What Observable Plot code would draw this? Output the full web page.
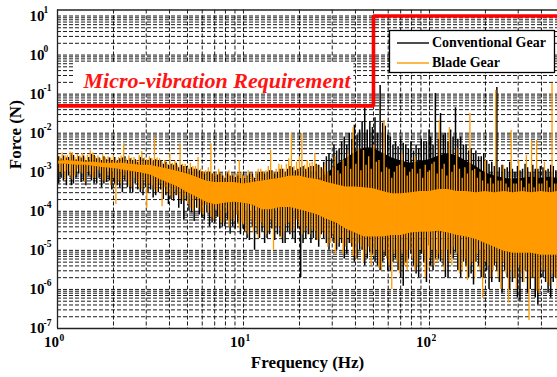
<!DOCTYPE html>
<html><head><meta charset="utf-8">
<script src="https://cdn.jsdelivr.net/npm/d3@7"></script>
<script src="https://cdn.jsdelivr.net/npm/@observablehq/plot@0.6"></script>
<style>
html,body{margin:0;padding:0;background:#fff;overflow:hidden;}
#chart{width:557px;height:377px;}
</style></head><body><div id="chart"></div>
<script>
// ---------- axes / ticks ----------
const xDomain = [1, 488];
const yDomain = [1e-7, 14.24];
const xMajor = [1, 10, 100];
const xExp = ["0", "1", "2"];
const yMajor = [10, 1, 0.1, 0.01, 1e-3, 1e-4, 1e-5, 1e-6, 1e-7];
const yExp = ["1", "0", "-1", "-2", "-3", "-4", "-5", "-6", "-7"];
const minorMant = [2, 3, 4, 5, 6, 7, 8, 9];
const xTitle = "Frequency (Hz)";
const yTitle = "Force (N)";
const seriesNames = ["Conventional Gear", "Blade Gear"];
const seriesColors = ["#000000", "#ff9a00"];

// ---------- requirement ----------
const reqF = [1, 50, 50, 488];
const reqV = [0.05, 0.05, 10, 10];
const reqLabel = {text: "Micro-vibration Requirement", f: 1.38, v: 0.22};

// ---------- spectrum core band (coarse bins) ----------
const bandF = [1.00,1.12,1.26,1.41,1.58,1.78,2.00,2.24,2.51,2.82,
  3.16,3.55,3.98,4.47,5.01,5.62,6.31,7.08,7.94,8.91,
  10.0,11.2,12.6,14.1,15.8,17.8,20.0,22.4,25.1,28.2,
  31.6,35.5,39.8,44.7,50.1,56.2,63.1,70.8,79.4,89.1,
  100,112,126,141,158,178,200,224,251,282,
  316,355,398,447,488];
const convTop = [1.9e-3,2.0e-3,1.9e-3,1.8e-3,1.8e-3,1.7e-3,1.7e-3,1.7e-3,1.6e-3,1.5e-3,
  1.5e-3,1.35e-3,1.2e-3,1.05e-3,9e-4,7.5e-4,6e-4,5.5e-4,5.5e-4,5.5e-4,
  5e-4,5.5e-4,6e-4,6.5e-4,7e-4,8e-4,8e-4,7e-4,6.5e-4,9e-4,
  1.5e-3,2.2e-3,3.2e-3,4.2e-3,4.2e-3,3e-3,2.3e-3,1.9e-3,1.7e-3,1.9e-3,
  2.1e-3,2.6e-3,3e-3,2.6e-3,1.9e-3,1.4e-3,9.5e-4,8e-4,7e-4,6.5e-4,
  7e-4,7.5e-4,7e-4,7.5e-4,7e-4];
const convBot = [1.6e-3,1.6e-3,1.5e-3,1.5e-3,1.4e-3,1.3e-3,1.25e-3,1.15e-3,1.05e-3,9.5e-4,
  8.5e-4,6.5e-4,5.2e-4,4.1e-4,3e-4,2.3e-4,1.7e-4,1.45e-4,1.6e-4,1.7e-4,
  1.6e-4,1.45e-4,1.1e-4,1.1e-4,1.25e-4,1.25e-4,1.1e-4,9.5e-5,8e-5,6.2e-5,
  5e-5,3.5e-5,2.8e-5,2.2e-5,2.2e-5,2.2e-5,2.4e-5,2.4e-5,2.8e-5,2.9e-5,
  2.9e-5,3.1e-5,2.8e-5,2.4e-5,2.2e-5,1.9e-5,1.5e-5,1.2e-5,9.5e-6,8.5e-6,
  8.5e-6,8.5e-6,7.5e-6,7.5e-6,7.5e-6];
const bladeTop = [1.9e-3,2.0e-3,1.9e-3,1.8e-3,1.8e-3,1.7e-3,1.7e-3,1.7e-3,1.6e-3,1.5e-3,
  1.5e-3,1.35e-3,1.2e-3,1.05e-3,9e-4,7.5e-4,6e-4,5.5e-4,5.5e-4,5.5e-4,
  5e-4,5.5e-4,6e-4,6.5e-4,7e-4,8e-4,8e-4,7e-4,6.5e-4,5.5e-4,
  4.8e-4,4.2e-4,4.2e-4,4e-4,3.8e-4,3.2e-4,2.8e-4,2.8e-4,3e-4,3.2e-4,
  3.2e-4,3.6e-4,3.6e-4,3.2e-4,3.2e-4,3e-4,3.2e-4,3e-4,3.2e-4,3e-4,
  3.2e-4,3e-4,3.2e-4,3e-4,3.2e-4];
const bladeBot = [1.6e-3,1.6e-3,1.5e-3,1.5e-3,1.4e-3,1.3e-3,1.25e-3,1.15e-3,1.05e-3,9.5e-4,
  8.5e-4,6.5e-4,5.2e-4,4.1e-4,3e-4,2.3e-4,1.7e-4,1.45e-4,1.6e-4,1.7e-4,
  1.6e-4,1.45e-4,1.1e-4,1.1e-4,1.25e-4,1.25e-4,1.1e-4,9.5e-5,8e-5,6.2e-5,
  5e-5,3.5e-5,2.8e-5,2.2e-5,2.2e-5,2.2e-5,2.4e-5,2.4e-5,2.8e-5,2.9e-5,
  2.9e-5,3.1e-5,2.8e-5,2.4e-5,2.2e-5,1.9e-5,1.5e-5,1.2e-5,9.5e-6,8.5e-6,
  8.5e-6,8.5e-6,7.5e-6,7.5e-6,7.5e-6];

// ---------- spectrum lines: per-frequency max / min ----------
const lineF = [1.00,1.03,1.06,1.10,1.13,1.17,1.20,1.24,1.28,1.32,
  1.36,1.40,1.45,1.50,1.55,1.60,1.65,1.70,1.75,1.81,
  1.87,1.93,2.00,2.06,2.13,2.20,2.27,2.34,2.42,2.50,
  2.58,2.66,2.75,2.84,2.93,3.02,3.12,3.22,3.32,3.43,
  3.54,3.65,3.77,3.89,4.02,4.15,4.28,4.42,4.56,4.71,
  4.86,5.02,5.18,5.35,5.52,5.70,5.88,6.07,6.27,6.47,
  6.68,6.90,7.12,7.35,7.59,7.83,8.09,8.35,8.62,8.90,
  9.19,9.49,9.80,
  10.0,10.3,10.6,11.0,11.3,11.7,12.0,12.4,12.8,13.2,
  13.6,14.0,14.5,15.0,15.5,16.0,16.5,17.0,17.5,18.1,
  18.7,19.3,20.0,20.6,21.3,22.0,22.7,23.4,24.2,25.0,
  25.8,26.6,27.5,28.4,29.3,30.2,31.2,32.2,33.2,34.3,
  35.4,36.5,37.7,38.9,40.2,41.5,42.8,44.2,45.6,47.1,
  48.6,50.2,51.8,53.5,55.2,57.0,58.8,60.7,62.7,64.7,
  66.8,69.0,71.2,73.5,75.9,78.3,80.9,83.5,86.2,89.0,
  91.9,94.9,98.0,
  100,103,106,110,113,117,120,124,128,132,
  136,140,145,150,155,160,165,170,175,181,
  187,193,200,206,213,220,227,234,242,250,
  258,266,275,284,293,302,312,322,332,343,
  354,365,377,389,402,415,428,442,456,471,
  486];
const convHi = [2.5e-3,2.2e-3,2.6e-3,2.3e-3,2.4e-3,2.8e-3,2.7e-3,2.1e-3,2.5e-3,2.3e-3,
  2.6e-3,2.0e-3,2.4e-3,2.9e-3,2.7e-3,2.2e-3,2.3e-3,2.0e-3,2.5e-3,2.1e-3,
  2.3e-3,2.0e-3,2.4e-3,1.9e-3,2.2e-3,2.3e-3,2.5e-3,2.0e-3,2.2e-3,2.0e-3,
  2.1e-3,1.8e-3,2.4e-3,2.2e-3,2.0e-3,1.9e-3,2.2e-3,1.9e-3,2.1e-3,2.0e-3,
  1.9e-3,1.6e-3,1.8e-3,1.5e-3,1.6e-3,1.5e-3,1.7e-3,1.3e-3,1.5e-3,1.4e-3,
  1.4e-3,1.2e-3,1.3e-3,1.2e-3,1.2e-3,1.1e-3,1.0e-3,9e-4,1.0e-3,1.0e-3,
  9e-4,8e-4,8.5e-4,9e-4,8e-4,7e-4,9e-4,8e-4,8e-4,7.5e-4,
  8e-4,7e-4,8.5e-4,7e-4,8e-4,9e-4,9e-4,7e-4,9e-4,1.0e-3,
  1.0e-3,9e-4,1.0e-3,1.1e-3,1.1e-3,9e-4,1.0e-3,1.2e-3,1.2e-3,1.0e-3,
  1.2e-3,1.4e-3,1.3e-3,1.1e-3,1.2e-3,1.3e-3,1.4e-3,1.2e-3,1.3e-3,1.4e-3,
  1.4e-3,1.6e-3,1.5e-3,1.3e-3,1.8e-3,2.5e-3,3.0e-3,2.2e-3,5.0e-3,3.5e-3,
  4.0e-3,6.0e-3,8.0e-3,5.0e-3,1.0e-2,7.0e-3,1.6e-2,9.0e-3,1.2e-2,2.0e-2,
  4.5e-2,1.2e-2,2.0e-2,1.4e-2,2.5e-2,1.0e-2,0.166,1.8e-2,1.5e-2,9.0e-3,
  8.0e-3,5.0e-3,6.0e-3,4.5e-3,7.0e-3,5.5e-3,5.0e-3,4.0e-3,6.0e-3,3.5e-3,
  5.0e-3,4.0e-3,7.0e-3,6.0e-3,6.0e-3,1.2e-2,8.0e-3,5.0e-3,0.104,7.0e-3,
  3.2e-2,9.0e-3,1.0e-2,6.0e-3,1.2e-2,8.0e-3,4.5e-2,7.0e-3,8.0e-3,5.0e-3,
  5.0e-3,3.5e-3,4.0e-3,3.0e-3,3.5e-3,2.5e-3,2.5e-3,3.0e-3,2.0e-3,1.6e-3,
  1.8e-3,1.4e-3,0.148,1.3e-3,1.5e-3,1.2e-3,1.3e-3,1.8e-3,1.2e-3,1.0e-3,
  1.4e-3,1.1e-3,1.2e-3,1.6e-3,1.3e-3,1.0e-3,1.5e-3,1.2e-3,1.2e-3,1.4e-3,
  1.3e-3,1.1e-3,1.2e-3,1.5e-3,1.4e-3,1.1e-3,1.2e-3];
const convLo = [5e-4,7e-4,6e-4,4.5e-4,8e-4,4.5e-4,5e-4,7e-4,9e-4,5.5e-4,
  6e-4,4.5e-4,8e-4,6e-4,5e-4,5e-4,7e-4,4e-4,5e-4,5.5e-4,
  6e-4,3.5e-4,5e-4,4.5e-4,4e-4,3e-4,6e-4,4e-4,3e-4,3e-4,
  5e-4,3.5e-4,3e-4,2.5e-4,4e-4,3e-4,3.5e-4,2.2e-4,2.5e-4,3e-4,
  3.5e-4,2e-4,2.5e-4,1.5e-4,2e-4,1.8e-4,2.5e-4,1.2e-4,1.5e-4,6e-5,
  1.8e-4,1e-4,9e-5,5.5e-5,1.2e-4,8e-5,7e-5,6e-5,9e-5,4e-5,
  5e-5,5e-5,7e-5,3.5e-5,4e-5,4e-5,6e-5,2.6e-5,4e-5,3.5e-5,
  5e-5,2.5e-5,3.5e-5,3e-5,2e-5,1.8e-5,4e-5,1e-5,2.5e-5,2e-5,
  3e-5,1.5e-5,2e-5,2.5e-5,3.5e-5,1.8e-5,2.5e-5,2.2e-5,1.5e-5,1.5e-5,
  3e-5,2.5e-5,2e-5,1.5e-5,3.5e-5,2e-6,1.5e-5,2e-5,2.5e-5,1.5e-5,
  2e-5,1.8e-5,1.2e-5,2.5e-5,2e-5,1.5e-5,1e-5,2e-5,1.5e-5,1e-5,
  1.2e-5,1.5e-5,6e-6,8e-6,1.5e-5,1.2e-5,5e-6,6e-6,1e-5,1e-5,
  4e-6,6e-6,9e-6,8e-6,5e-6,4e-6,3e-6,5e-6,7e-6,3e-6,
  3e-6,5e-6,6e-6,3e-6,2e-6,1.2e-6,5e-6,6e-6,8e-6,4e-6,
  2.5e-6,2e-6,8e-6,5e-6,1.5e-6,1.3e-5,4e-6,3e-6,6e-6,6e-6,
  5e-6,4e-6,2e-6,2e-6,8e-6,6e-6,9e-6,3e-6,2e-6,5e-6,
  4e-6,2e-6,2.5e-6,1.3e-6,5e-6,4e-6,2e-6,2e-6,3e-6,1e-6,
  1.5e-6,4e-6,3e-6,1.5e-6,8e-7,3e-6,2e-6,1e-6,1.5e-6,2e-6,
  6e-7,5e-7,1.5e-6,3e-6,8e-7,1e-6,2e-6,6e-7,4e-7,2e-6,
  2e-6,1.5e-6,8e-7,6e-7,1.5e-6,2e-6,1e-6];
const bladeHi = [2.9e-3,2.5e-3,3.1e-3,2.6e-3,2.7e-3,3.3e-3,3.2e-3,2.4e-3,2.8e-3,2.6e-3,
  3.0e-3,2.3e-3,2.7e-3,3.6e-3,3.1e-3,2.5e-3,2.6e-3,2.2e-3,2.8e-3,2.4e-3,
  2.5e-3,2.3e-3,2.7e-3,2.1e-3,2.4e-3,2.6e-3,5.4e-3,2.2e-3,2.6e-3,2.3e-3,
  2.4e-3,2.0e-3,2.7e-3,3.4e-3,2.3e-3,2.1e-3,2.5e-3,2.2e-3,7.8e-3,2.3e-3,
  2.2e-3,1.8e-3,2.0e-3,1.6e-3,3.0e-3,1.7e-3,1.9e-3,1.5e-3,5.4e-3,1.6e-3,
  1.6e-3,1.3e-3,1.7e-3,1.4e-3,1.4e-3,2.4e-3,1.2e-3,1.0e-3,1.1e-3,1.3e-3,
  5.4e-3,9e-4,1.0e-3,1.2e-3,9e-4,8e-4,1.0e-3,1.1e-3,8.5e-4,9e-4,
  9e-4,2.0e-3,1.0e-3,8e-4,8e-4,1.1e-3,9.5e-4,7.5e-4,1.0e-3,1.2e-3,
  1.2e-3,1.0e-3,1.1e-3,1.4e-3,3.6e-3,1.0e-3,1.2e-3,1.6e-3,1.5e-3,1.2e-3,
  1.6e-3,2.2e-3,9.8e-3,1.4e-3,1.8e-3,2.5e-3,9.8e-3,1.5e-3,2.0e-3,1.7e-3,
  1.8e-3,3.0e-3,1.5e-3,1.3e-3,1.2e-3,1.6e-3,1.0e-3,8e-4,1.3e-3,2.5e-3,
  1.1e-3,9e-4,2.0e-3,1.4e-3,3.0e-3,1.2e-3,1.4e-2,1.6e-3,4.0e-3,1.1e-3,
  3.6e-3,1.5e-3,2.5e-3,1.2e-3,5.0e-3,1.8e-3,2.0e-3,1.0e-3,2.1e-2,1.3e-3,
  1.2e-3,7e-4,1.0e-3,1.4e-3,1.5e-3,3.0e-3,1.3e-3,8e-4,1.0e-3,1.2e-3,
  2.5e-3,9e-4,1.2e-3,7e-4,1.5e-3,1.0e-3,1.1e-3,1.6e-3,1.8e-3,9e-4,
  2.1e-2,1.2e-3,1.6e-3,8e-4,1.4e-2,1.0e-3,1.5e-3,4.0e-3,1.2e-3,7e-4,
  1.3e-3,9e-4,3.2e-2,1.1e-3,1.2e-3,7e-4,1.0e-3,6e-4,2.0e-3,5e-4,
  7e-4,5e-4,0.124,6e-4,6e-4,1.5e-3,5e-4,4e-4,1.17e-2,5e-4,
  5e-4,2.0e-3,6e-4,4e-4,2.7e-3,5e-4,6.5e-3,4e-4,6.5e-3,5e-4,
  5e-4,1.8e-3,6e-4,4e-4,0.187,5e-4,5e-4];
const bladeLo = [7.5e-4,1.0e-3,9e-4,6.5e-4,1.1e-3,8e-4,6.5e-4,8e-4,1.2e-3,1.0e-3,
  9e-4,5.5e-4,1.0e-3,8.5e-4,7e-4,7e-4,1.1e-3,9e-4,6e-4,6e-4,
  8e-4,4.5e-4,7e-4,1.5e-4,6e-4,5e-4,8e-4,6e-4,4.5e-4,4e-4,
  7e-4,5.5e-4,4e-4,3.5e-4,6e-4,1.2e-4,5e-4,4.5e-4,3.5e-4,3e-4,
  5e-4,1.3e-4,4e-4,3e-4,2.5e-4,2.2e-4,3.5e-4,2.6e-4,2e-4,1.8e-4,
  2.5e-4,1.5e-4,1.2e-4,1e-4,2e-4,1.2e-4,9e-5,8e-5,1.4e-4,9e-5,
  7e-5,6e-5,1.1e-4,7e-5,5e-5,5e-5,9e-5,4e-5,6e-5,5.5e-5,
  8e-5,3.5e-5,5e-5,4.5e-5,3e-5,2.5e-5,6e-5,3e-5,4e-5,2e-5,
  5e-5,4e-5,2.5e-5,3e-5,6e-5,1e-5,4e-5,4e-5,2e-5,3e-5,
  4.5e-5,5e-5,3e-5,3.5e-5,6e-5,4e-5,2.5e-5,3e-5,4e-5,2.5e-5,
  3.5e-5,3e-5,1.8e-5,2e-5,3e-5,2.5e-5,1.2e-5,1.5e-5,2.5e-5,8e-6,
  1.5e-5,2e-5,8e-6,1.2e-5,2e-5,1.5e-5,7e-6,6e-6,1.5e-5,1.2e-5,
  5e-6,8e-6,1.2e-5,4e-6,7e-6,1e-5,3.5e-6,3e-6,9e-6,6e-6,
  4e-6,1e-6,8e-6,5e-6,2.5e-6,8e-6,4e-6,3e-6,1e-5,6e-6,
  3e-6,4e-6,1e-5,8e-6,2e-6,3e-6,6e-6,1e-5,4e-6,5e-6,
  8e-6,6e-6,3e-6,1e-5,5e-6,4e-6,1.2e-5,8e-6,2.5e-6,3e-6,
  6e-6,1.7e-6,4e-6,5e-6,2e-6,8e-6,3e-6,6e-7,5e-6,4e-6,
  2e-6,3e-6,5e-6,2e-6,1e-6,5e-6,2.5e-6,4.5e-7,3e-6,2e-6,
  1e-6,4e-6,2.5e-6,1.5e-6,3e-6,1.6e-7,2e-6,2e-6,9e-7,8e-7,
  3e-6,3e-6,1.5e-6,1.2e-6,2.5e-6,2e-6,1e-6];

// ---------- build tables ----------
const SERIF = "'Liberation Serif', 'Times New Roman', Times, serif";
const band = bandF.map((f, i) => ({f, convLo: convBot[i], convHi: convTop[i], bladeLo: bladeBot[i], bladeHi: bladeTop[i]}));
const spec = lineF.map((f, i) => ({f, convLo: convLo[i], convHi: convHi[i], bladeLo: bladeLo[i], bladeHi: bladeHi[i]}));
const req = reqF.map((f, i) => ({f, v: reqV[i]}));
const xGrid = xMajor.flatMap(d => [1, ...minorMant].map(m => m * d)).filter(v => v <= xDomain[1]);
const yGrid = yMajor.concat(yMajor.slice(1).flatMap(d => minorMant.map(m => m * d)));
const gridStyle = {stroke: "#000", strokeWidth: 0.9, strokeOpacity: 1, strokeDasharray: "4,2"};

const plot = Plot.plot({
  width: 557, height: 377,
  marginLeft: 57, marginRight: 0, marginTop: 9.5, marginBottom: 49,
  x: {type: "log", domain: xDomain, axis: null},
  y: {type: "log", domain: yDomain, axis: null},
  style: {fontFamily: SERIF, background: "white", color: "#000"},
  marks: [
    Plot.ruleX(xGrid, gridStyle),
    Plot.ruleY(yGrid, gridStyle),
    Plot.areaY(band, {x: "f", y1: "convLo", y2: "convHi", fill: seriesColors[0], clip: true}),
    Plot.ruleX(spec, {x: "f", y1: "convLo", y2: "convHi", dx: 1.2, stroke: seriesColors[0], strokeWidth: 1.5, clip: true}),
    Plot.areaY(band, {x: "f", y1: "bladeLo", y2: "bladeHi", fill: seriesColors[1], clip: true}),
    Plot.ruleX(spec, {x: "f", y1: "bladeLo", y2: "bladeHi", stroke: seriesColors[1], strokeWidth: 1.3, clip: true}),
    Plot.line(req, {x: "f", y: "v", stroke: "#ff0000", strokeWidth: 3.6, strokeLinejoin: "miter", strokeLinecap: "butt"}),
    Plot.ruleX([xDomain[0]], {stroke: "#222", strokeWidth: 1.3}),
    Plot.ruleY(yDomain, {stroke: "#222", strokeWidth: 1.3}),
    Plot.text([reqLabel], {x: "f", y: "v", text: "text", textAnchor: "start", fontSize: 22, fontWeight: "bold", fontStyle: "italic", fill: "#ff1414", fontFamily: SERIF, ariaLabel: "requirement label"}),
    // y tick labels
    Plot.text(yMajor, {y: d => d, frameAnchor: "left", dx: -28, textAnchor: "start", text: () => "10", fontSize: 15, fontWeight: "bold", fontFamily: SERIF}),
    Plot.text(yMajor, {y: d => d, frameAnchor: "left", dx: -14, dy: -6, textAnchor: "start", text: (d, i) => yExp[i], fontSize: 9.5, fontWeight: "bold", fontFamily: SERIF}),
    // x tick labels
    Plot.text(xMajor, {x: d => d, frameAnchor: "bottom", dx: 1.5, dy: 18, textAnchor: "end", text: () => "10", fontSize: 15, fontWeight: "bold", fontFamily: SERIF}),
    Plot.text(xMajor, {x: d => d, frameAnchor: "bottom", dx: 2, dy: 12, textAnchor: "start", text: (d, i) => xExp[i], fontSize: 9.5, fontWeight: "bold", fontFamily: SERIF}),
    // axis titles
    Plot.text([xTitle], {frameAnchor: "bottom", dy: 39, text: d => d, fontSize: 17, fontWeight: "bold", fontFamily: SERIF}),
    Plot.text([yTitle], {frameAnchor: "left", dx: -42, rotate: -90, text: d => d, fontSize: 17, fontWeight: "bold", fontFamily: SERIF})
  ]
});

// ---------- legend ----------
const svg = d3.select(plot);
const lg = svg.append("g").attr("font-family", SERIF).attr("text-anchor", "start");
lg.append("rect").attr("x", 389.5).attr("y", 30.5).attr("width", 165).attr("height", 42)
  .attr("fill", "#fff").attr("stroke", "#000").attr("stroke-width", 1.3);
seriesNames.forEach((name, i) => {
  const y = 43 + 20 * i;
  lg.append("line").attr("x1", 397).attr("x2", 429).attr("y1", y).attr("y2", y)
    .attr("stroke", seriesColors[i]).attr("stroke-width", 1.4);
  lg.append("text").attr("x", 432).attr("y", y).attr("dy", "0.32em").attr("text-anchor", "start")
    .attr("font-size", 14).attr("font-weight", "bold").attr("fill", "#000").text(name);
});

document.getElementById("chart").appendChild(plot);

// white backing box behind the requirement annotation (as in the original figure)
svg.selectAll("text").filter(function () { return this.textContent === reqLabel.text; }).each(function () {
  const b = this.getBBox();
  const t = this.getAttribute("transform");
  const r = document.createElementNS("http://www.w3.org/2000/svg", "rect");
  r.setAttribute("x", b.x - 8);
  r.setAttribute("y", b.y - 5);
  r.setAttribute("width", b.width + 10);
  r.setAttribute("height", b.height + 4);
  r.setAttribute("fill", "#fff");
  if (t) r.setAttribute("transform", t);
  this.parentNode.insertBefore(r, this);
});
</script>
</body></html>
